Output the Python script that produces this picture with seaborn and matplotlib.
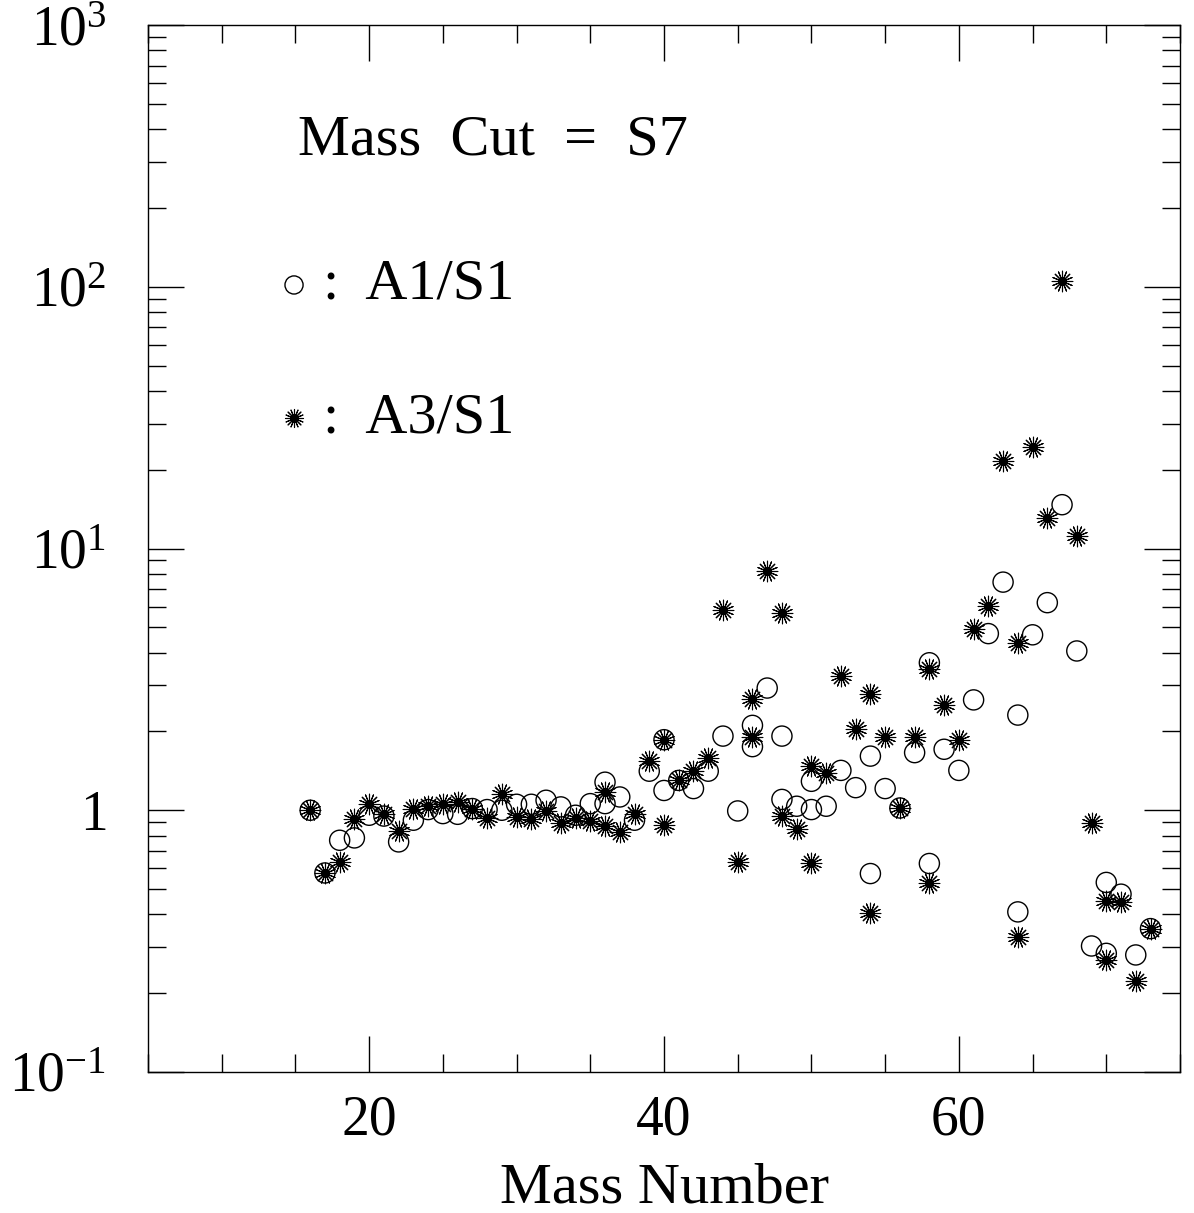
import matplotlib
matplotlib.use("Agg")
import matplotlib.pyplot as plt
from matplotlib.ticker import MultipleLocator, LogLocator, FixedLocator, FixedFormatter, NullFormatter
import seaborn as sns
import pandas as pd

# ---- data ----
mass_a1 = [16, 17, 18, 19, 20, 21, 22, 23, 24, 25, 26, 27, 28, 29, 30, 31, 32, 33, 34, 35,
           36, 36, 37, 38, 39, 40, 40, 41, 42, 43, 44, 45, 46, 46, 47, 48, 48, 49, 50, 50,
           51, 52, 53, 54, 54, 55, 56, 57, 58, 58, 59, 60, 61, 62, 63, 64, 64, 65, 66, 67,
           68, 69, 70, 70, 71, 72, 73]
ratio_a1 = [1.0, 0.576, 0.768, 0.784, 0.957, 0.95, 0.757, 0.916, 1.006, 0.971, 0.965, 1.015,
            1.006, 1.0, 1.054, 1.054, 1.092, 1.03, 0.957, 1.06,
            1.28, 1.06, 1.124, 0.916, 1.41, 1.86, 1.19, 1.30, 1.21, 1.41, 1.92, 0.994, 2.11, 1.75,
            2.93, 1.92, 1.10, 1.036, 1.29, 1.006,
            1.036, 1.42, 1.22, 1.61, 0.573, 1.21, 1.02, 1.66, 3.66, 0.626, 1.71, 1.42, 2.64, 4.73,
            7.44, 2.31, 0.409, 4.68, 6.21, 14.7,
            4.06, 0.303, 0.53, 0.284, 0.478, 0.28, 0.353]

mass_a3 = [16, 17, 18, 19, 20, 21, 22, 23, 24, 25, 26, 27, 28, 29, 30, 31, 32, 33, 34, 35,
           36, 36, 37, 38, 39, 40, 40, 41, 42, 43, 44, 45, 46, 46, 47, 48, 48, 49, 50, 50,
           51, 52, 53, 54, 54, 55, 56, 57, 58, 58, 59, 60, 61, 62, 63, 64, 64, 65, 66, 67,
           68, 69, 70, 70, 71, 72, 73]
ratio_a3 = [1.0, 0.576, 0.635, 0.924, 1.06, 0.97, 0.834, 1.015, 1.036, 1.054, 1.076, 1.015,
            0.938, 1.158, 0.943, 0.929, 0.994, 0.89, 0.93, 0.908,
            1.175, 0.871, 0.826, 0.971, 1.54, 1.86, 0.876, 1.30, 1.41, 1.58, 5.83, 0.635, 2.67, 1.91,
            8.24, 5.68, 0.951, 0.846, 1.47, 0.629,
            1.39, 3.25, 2.04, 2.77, 0.405, 1.91, 1.02, 1.90, 3.45, 0.525, 2.52, 1.86, 4.91, 6.02,
            21.5, 4.36, 0.327, 24.4, 13.1, 105.0,
            11.2, 0.89, 0.451, 0.267, 0.447, 0.223, 0.353]

x_ticks = [20, 40, 60]
y_ticks = [0.1, 1, 10, 100, 1000]
y_tick_labels = [r"$\mathregular{10^{-1}}$", r"$\mathregular{1}$", r"$\mathregular{10^{1}}$",
                 r"$\mathregular{10^{2}}$", r"$\mathregular{10^{3}}$"]
title_text = "Mass  Cut  =  S7"
label_a1 = ":  A1/S1"
label_a3 = ":  A3/S1"
xlabel = "Mass Number"

# ---- style ----
sns.set_style("ticks")
plt.rcParams["font.family"] = ["Liberation Serif", "DejaVu Serif"]
plt.rcParams["mathtext.fontset"] = "custom"
plt.rcParams["mathtext.rm"] = "Liberation Serif"
plt.rcParams["text.color"] = "black"
plt.rcParams["axes.labelcolor"] = "black"
plt.rcParams["xtick.color"] = "black"
plt.rcParams["ytick.color"] = "black"

fig = plt.figure(figsize=(11.94, 12.13), dpi=100)
ax = fig.add_axes([148 / 1194, 1 - 1072 / 1213, 1032 / 1194, 1047 / 1213])

df1 = pd.DataFrame({"A": mass_a1, "r": ratio_a1})
df3 = pd.DataFrame({"A": mass_a3, "r": ratio_a3})

STAR = (16, 2, 0)

sns.scatterplot(data=df1, x="A", y="r", ax=ax, marker="o", s=210, color="black",
                linewidth=1.0, zorder=3)
c1 = ax.collections[-1]
c1.set_facecolor("none")
c1.set_edgecolor("black")

sns.scatterplot(data=df3, x="A", y="r", ax=ax, marker=STAR, s=220, color="black",
                linewidth=0.8, zorder=4)
c3 = ax.collections[-1]
c3.set_edgecolor("black")

ax.set_yscale("log")
ax.set_xlim(5, 75)
ax.set_ylim(0.1, 1000)

ax.xaxis.set_major_locator(FixedLocator(x_ticks))
ax.xaxis.set_minor_locator(MultipleLocator(5))
ax.yaxis.set_major_locator(FixedLocator(y_ticks))
ax.yaxis.set_major_formatter(FixedFormatter(y_tick_labels))
ax.yaxis.set_minor_locator(LogLocator(base=10, subs=range(2, 10)))
ax.yaxis.set_minor_formatter(NullFormatter())

ax.tick_params(which="both", direction="in", top=True, right=True, width=1.0, color="black")
ax.tick_params(which="major", length=26)
ax.tick_params(which="minor", length=13)
ax.tick_params(axis="x", which="major", labelsize=40, pad=16)
ax.tick_params(axis="y", which="major", labelsize=40, pad=30)
for sp in ax.spines.values():
    sp.set_visible(True)
    sp.set_linewidth(1.0)
    sp.set_color("black")

ax.set_xlabel(xlabel, fontsize=42, labelpad=12)
ax.set_ylabel("")

# annotation / legend inside axes
ax.text(0.145, 0.890, title_text, transform=ax.transAxes, fontsize=42, va="center", ha="left")
ax.scatter([0.1415], [0.7517], transform=ax.transAxes, marker="o", s=170,
           facecolors="none", edgecolors="black", linewidths=1.0, clip_on=False)
ax.text(0.170, 0.7517, label_a1, transform=ax.transAxes, fontsize=42, va="center", ha="left")
ax.scatter([0.1415], [0.6246], transform=ax.transAxes, marker=STAR, s=170,
           color="black", linewidths=0.8, clip_on=False)
ax.text(0.170, 0.6246, label_a3, transform=ax.transAxes, fontsize=42, va="center", ha="left")

fig.savefig("out.png", dpi=100)
